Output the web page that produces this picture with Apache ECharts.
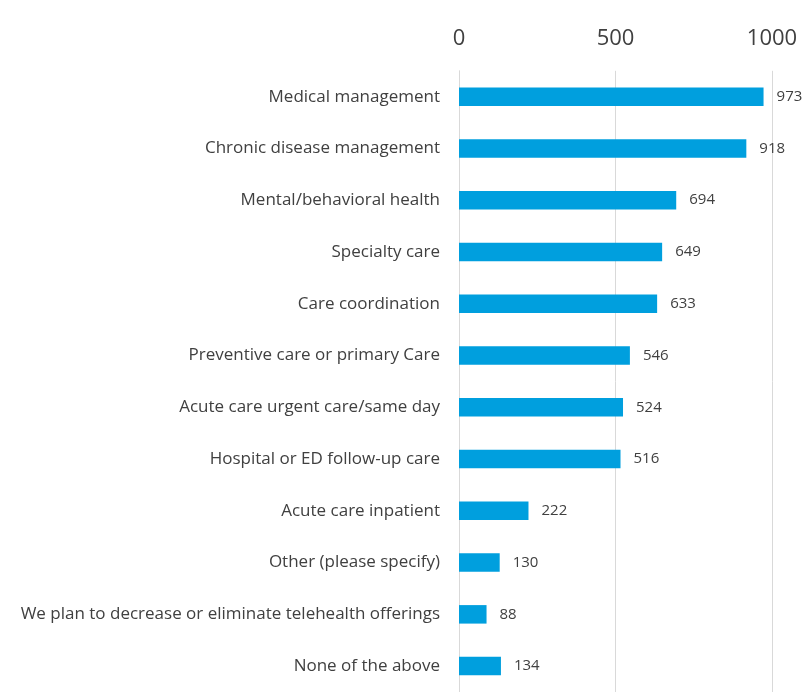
<!DOCTYPE html>
<html>
<head>
<meta charset="utf-8">
<script src="https://cdn.jsdelivr.net/npm/echarts@6/dist/echarts.min.js"></script>
<style>
  html, body { margin: 0; padding: 0; background: #fff; }
  #chart { width: 803px; height: 692px; }
</style>
</head>
<body>
<div id="chart"></div>
<script>
var categories = [
  'Medical management',
  'Chronic disease management',
  'Mental/behavioral health',
  'Specialty care',
  'Care coordination',
  'Preventive care or primary Care',
  'Acute care urgent care/same day',
  'Hospital or ED follow-up care',
  'Acute care inpatient',
  'Other (please specify)',
  'We plan to decrease or eliminate telehealth offerings',
  'None of the above'
];
var values = [973, 918, 694, 649, 633, 546, 524, 516, 222, 130, 88, 134];
var axisTicks = [0, 500, 1000];

var myChart = echarts.init(document.getElementById('chart'));
var font = 'Open Sans';

option = {
  animation: false,
  grid: { left: 459, top: 70.8, width: 313, height: 626 },
  xAxis: {
    type: 'value',
    position: 'top',
    min: axisTicks[0],
    max: axisTicks[axisTicks.length - 1],
    interval: axisTicks[1] - axisTicks[0],
    axisLine: { show: false },
    axisTick: { show: false },
    splitLine: { lineStyle: { color: '#d9d9d9', width: 1 } },
    axisLabel: {
      color: '#404040', fontSize: 22, fontFamily: font, margin: 21,
      formatter: function (v) { return String(v); }
    }
  },
  yAxis: {
    type: 'category',
    inverse: true,
    data: categories,
    axisLine: { show: true, lineStyle: { color: '#d9d9d9', width: 1 } },
    axisTick: { show: false },
    axisLabel: { color: '#404040', fontSize: 17, fontFamily: font, margin: 19 }
  },
  series: [{
    type: 'bar',
    data: values,
    barWidth: 18.5,
    itemStyle: { color: '#009FDE' },
    label: {
      show: true,
      position: 'right',
      distance: 13,
      color: '#404040',
      fontSize: 15,
      fontFamily: font
    }
  }]
};

myChart.setOption(option);
</script>
</body>
</html>
